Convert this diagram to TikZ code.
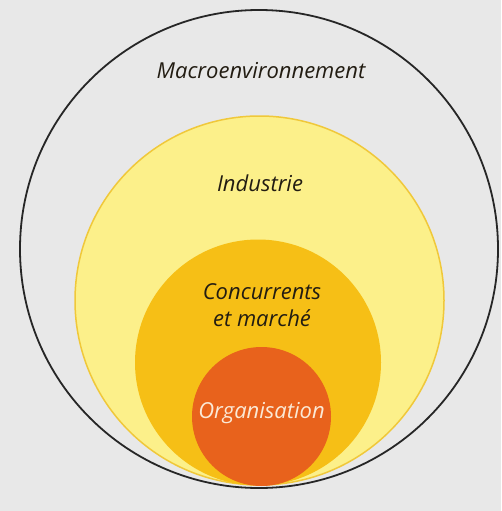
\documentclass[tikz,border=0pt]{standalone}
\usepackage{fontspec}
\setmainfont{Open Sans}
\definecolor{bgcol}{HTML}{E8E8E8}
\definecolor{indfill}{HTML}{FCF08A}
\definecolor{indline}{HTML}{F0C83A}
\definecolor{concfill}{HTML}{F6BF16}
\definecolor{orgfill}{HTML}{E8621C}
\definecolor{orgtext}{HTML}{FBE9D6}
\definecolor{darktext}{HTML}{221C12}
\tikzset{
  ring/.style={circle, inner sep=0pt, outer sep=0pt},
  lbl/.style={font=\fontsize{22}{27}\selectfont\itshape, align=center, inner sep=0pt},
}
\begin{document}
\begin{tikzpicture}[x=1pt,y=-1pt]
\fill[bgcol] (0,0) rectangle (501,511);
\useasboundingbox (0,0) rectangle (501,511);
\node[ring, draw=black!85, line width=1.8pt, minimum size=478pt] (macro) at (259,249) {};
\node[ring, fill=indfill, draw=indline, line width=1.5pt, minimum size=369pt] (ind) at (259.5,300.5) {};
\node[ring, fill=concfill, minimum size=246pt] (conc) at (258,362.5) {};
\node[ring, fill=orgfill, minimum size=139pt] (org) at (261.5,416.5) {};
\node[lbl, text=darktext] (tmacro) at (261,71) {Macroenvironnement};
\node[lbl, text=darktext] (tind) at (260,183) {Industrie};
\node[lbl, text=darktext] (tconc) at (262,305) {Concurrents\\et marché};
\node[lbl, text=orgtext] (torg) at (261.5,413) {Organisation};
\end{tikzpicture}
\end{document}
